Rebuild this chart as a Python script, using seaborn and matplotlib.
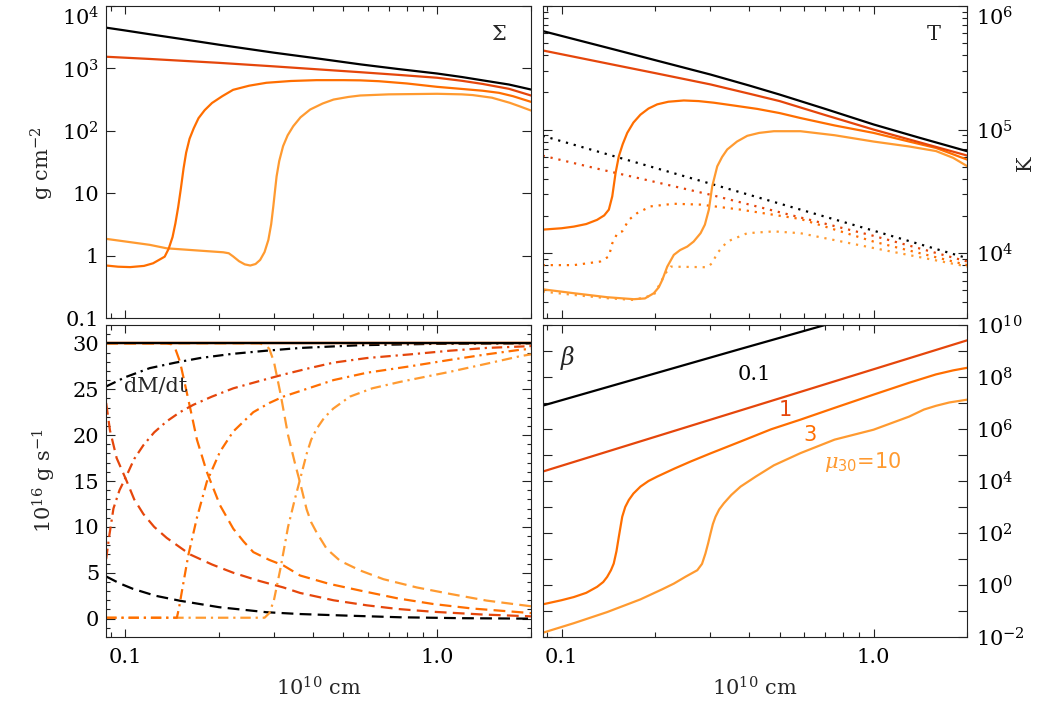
import matplotlib
matplotlib.use('Agg')
import matplotlib.pyplot as plt
import seaborn as sns
from matplotlib.ticker import FixedLocator, FixedFormatter, NullFormatter

# ---- colours for the four dipole moments (mu30 = 0.1, 1, 3, 10)
c01, c1, c3, c10 = 'black', '#e5460b', '#ff6e00', '#ff9a30'

# ---- surface density Sigma (g cm^-2)
sig_r_mu01 = [0.087, 0.1, 0.12, 0.15, 0.2, 0.3, 0.4, 0.57, 0.75, 1.0, 1.2, 1.4, 1.7, 2.0]
sig_mu01 = [4500, 4060, 3530, 2990, 2400, 1790, 1480, 1160, 980, 830, 730, 645, 553, 460]
sig_r_mu1 = [0.087, 0.12, 0.2, 0.3, 0.4, 0.57, 0.75, 1.0, 1.2, 1.4, 1.7, 2.0]
sig_mu1 = [1540, 1420, 1230, 1080, 980, 870, 790, 710, 635, 565, 472, 369]
sig_r_mu3 = [0.087, 0.095, 0.1038, 0.115, 0.123, 0.134, 0.138, 0.142, 0.145, 0.148,
             0.151, 0.154, 0.157, 0.161, 0.166, 0.172, 0.18, 0.19, 0.205, 0.222,
             0.25, 0.284, 0.34, 0.411, 0.5, 0.567, 0.651, 0.8, 1.0, 1.2, 1.4,
             1.58, 1.75, 2.0]
sig_mu3 = [0.70, 0.67, 0.66, 0.69, 0.76, 0.97, 1.3, 2.0, 3.3, 6.0,
           12, 25, 45, 75, 110, 160, 215, 280, 360, 455,
           530, 590, 630, 650, 650, 645, 625, 575, 508, 470, 440,
           407, 360, 292]
sig_r_mu10 = [0.087, 0.1, 0.12, 0.136, 0.17, 0.2065, 0.215, 0.222, 0.232, 0.242,
              0.252, 0.262, 0.271, 0.280, 0.288, 0.294, 0.2987, 0.303, 0.306, 0.312,
              0.321, 0.332, 0.346, 0.365, 0.392, 0.43, 0.466, 0.52, 0.567, 0.7,
              1.0, 1.2, 1.3, 1.5, 1.71, 1.85, 2.0]
sig_mu10 = [1.87, 1.7, 1.5, 1.32, 1.22, 1.14, 1.10, 0.98, 0.82, 0.73,
            0.70, 0.74, 0.86, 1.15, 1.8, 3.2, 6.2, 12, 18.7, 33,
            57, 85, 119, 165, 220, 275, 318, 350, 369, 385,
            393, 385, 375, 340, 282, 245, 212]

# ---- temperature T (K): solid = midplane, dotted = surface
T_r_mu01 = [0.087, 0.15, 0.2, 0.3, 0.4, 0.5, 0.7, 1.0, 1.4, 2.0]
T_mu01 = [6.27e5, 4.4e5, 3.64e5, 2.79e5, 2.27e5, 1.92e5, 1.47e5, 1.1e5, 8.6e4, 6.67e4]
T_r_mu1 = [0.087, 0.15, 0.2, 0.3, 0.4, 0.5, 0.7, 1.0, 1.4, 2.0]
T_mu1 = [4.37e5, 3.31e5, 2.86e5, 2.32e5, 1.95e5, 1.70e5, 1.31e5, 1.0e5, 7.9e4, 6.15e4]
T_r_mu3 = [0.087, 0.1, 0.1095, 0.12, 0.13, 0.137, 0.1418, 0.1454, 0.149, 0.1526,
           0.157, 0.1624, 0.17, 0.179, 0.19, 0.2026, 0.22, 0.2466, 0.275, 0.3076,
           0.36, 0.4238, 0.5, 0.583, 0.75, 1.0, 1.3, 1.585, 1.8, 2.0]
T_mu3 = [1.55e4, 1.59e4, 1.64e4, 1.72e4, 1.86e4, 2.02e4, 2.25e4, 2.88e4, 4.45e4, 6.07e4,
         7.6e4, 9.4e4, 1.14e5, 1.32e5, 1.48e5, 1.6e5, 1.68e5, 1.72e5, 1.70e5, 1.65e5,
         1.56e5, 1.47e5, 1.36e5, 1.24e5, 1.08e5, 9.4e4, 8.0e4, 7.1e4, 6.3e4, 5.7e4]
T_r_mu10 = [0.087, 0.1095, 0.14, 0.1705, 0.185, 0.1976, 0.205, 0.2103, 0.2182, 0.229,
            0.24, 0.2529, 0.265, 0.279, 0.288, 0.2966, 0.304, 0.3155, 0.327, 0.3396,
            0.365, 0.3937, 0.43, 0.479, 0.583, 0.75, 1.0, 1.3, 1.585, 1.8, 2.0]
T_mu10 = [5100, 4740, 4400, 4240, 4300, 4740, 5300, 6070, 7780, 9680,
          1.06e4, 1.13e4, 1.24e4, 1.45e4, 1.7e4, 2.25e4, 3.47e4, 5.04e4, 6.0e4, 6.9e4,
          8.0e4, 8.9e4, 9.4e4, 9.7e4, 9.7e4, 9.0e4, 8.0e4, 7.3e4, 6.7e4, 5.9e4, 5.04e4]

Ts_r_mu01 = [0.087, 0.3, 1.0, 2.0]
Ts_mu01 = [8.9e4, 3.65e4, 1.52e4, 9.1e3]
Ts_r_mu1 = [0.087, 0.13, 0.18, 0.3, 0.58, 1.0, 2.0]
Ts_mu1 = [6.15e4, 4.83e4, 4.0e4, 2.97e4, 1.95e4, 1.38e4, 8.55e3]
Ts_r_mu3 = [0.087, 0.1095, 0.133, 0.1418, 0.1454, 0.151, 0.1565, 0.1643, 0.1748,
            0.1929, 0.229, 0.279, 0.3747, 0.583, 1.0, 2.0]
Ts_mu3 = [8.0e3, 8.0e3, 8.55e3, 9.4e3, 1.2e4, 1.45e4, 1.5e4, 1.86e4, 2.11e4,
          2.39e4, 2.51e4, 2.47e4, 2.25e4, 1.89e4, 1.24e4, 8.0e3]
Ts_r_mu10 = [0.087, 0.1095, 0.140, 0.1705, 0.1976, 0.2155, 0.2236, 0.293, 0.304,
             0.3155, 0.3396, 0.3937, 0.479, 0.583, 1.0, 2.0]
Ts_mu10 = [4890, 4590, 4320, 4180, 4590, 6880, 7780, 7690, 8300,
           1.0e4, 1.24e4, 1.45e4, 1.5e4, 1.45e4, 1.1e4, 7780]

# ---- accretion rates (1e16 g/s): solid = total, dash-dot = disc, dashed = field lines
tot_r = [0.087, 2.0]
tot_mdot = [30.0, 30.0]

dd_r_mu01 = [0.087, 0.1, 0.12, 0.145, 0.174, 0.22, 0.284, 0.365, 0.567, 1.0, 2.0]
disk_mu01 = [25.3, 26.3, 27.3, 27.9, 28.4, 28.85, 29.2, 29.5, 29.8, 29.95, 30.0]
ds_r_mu01 = [0.087, 0.096, 0.106, 0.125, 0.15, 0.2, 0.284, 0.365, 0.514, 0.76, 1.2, 2.0]
mag_mu01 = [4.6, 3.85, 3.25, 2.5, 1.95, 1.25, 0.7, 0.5, 0.33, 0.15, 0.05, 0.0]

dd_r_mu1 = [0.087, 0.089, 0.0918, 0.096, 0.1012, 0.107, 0.1145, 0.124, 0.136, 0.15,
            0.1655, 0.19, 0.2223, 0.27, 0.3217, 0.39, 0.466, 0.596, 0.82, 1.1, 1.44, 2.0]
disk_mu1 = [6.5, 9.0, 12.0, 14.0, 15.6, 17.4, 18.9, 20.3, 21.5, 22.5,
            23.3, 24.2, 25.1, 25.9, 26.6, 27.3, 27.9, 28.4, 28.8, 29.2, 29.5, 29.7]
ds_r_mu1 = [0.087, 0.0895, 0.094, 0.1012, 0.107, 0.1145, 0.124, 0.136, 0.1615, 0.19,
            0.2223, 0.27, 0.3217, 0.364, 0.466, 0.596, 0.75, 0.97, 1.4, 2.0]
mag_mu1 = [23.5, 20.5, 17.5, 15.0, 13.0, 11.4, 10.0, 8.8, 7.0, 5.9,
           5.0, 4.1, 3.4, 2.8, 2.0, 1.45, 1.05, 0.75, 0.45, 0.25]

dd_r_mu3 = [0.087, 0.1466, 0.149, 0.152, 0.1595, 0.170, 0.1828, 0.2016, 0.2223, 0.2577,
            0.29, 0.3217, 0.364, 0.466, 0.596, 0.82, 1.1, 1.44, 1.845, 2.0]
disk_mu3 = [0.1, 0.1, 1.2, 2.9, 6.9, 11.0, 14.9, 18.2, 20.4, 22.5,
            23.5, 24.2, 24.8, 26.0, 26.8, 27.5, 28.2, 28.8, 29.3, 29.4]
ds_r_mu3 = [0.087, 0.136, 0.141, 0.1446, 0.150, 0.1576, 0.164, 0.170, 0.1828, 0.2016,
            0.2223, 0.24, 0.2577, 0.29, 0.3217, 0.364, 0.45, 0.567, 0.75, 0.97,
            1.3, 1.845, 2.0]
mag_mu3 = [30.0, 30.0, 29.9, 29.5, 28.0, 24.7, 22.0, 19.5, 16.0, 12.35,
           9.8, 8.4, 7.25, 6.4, 5.8, 4.7, 3.8, 3.06, 2.2, 1.6,
           1.1, 0.7, 0.6]

dd_r_mu10 = [0.087, 0.28, 0.29, 0.30, 0.315, 0.333, 0.350, 0.364, 0.3823, 0.395,
             0.4114, 0.435, 0.4652, 0.526, 0.62, 0.761, 1.1, 1.45, 1.845, 2.0]
disk_mu10 = [0.1, 0.1, 0.6, 2.0, 5.5, 10.0, 13.0, 15.2, 18.0, 19.5,
             20.7, 21.9, 22.9, 24.2, 25.1, 25.8, 26.9, 27.8, 28.6, 28.8]
ds_r_mu10 = [0.087, 0.27, 0.282, 0.29, 0.30, 0.315, 0.333, 0.350, 0.364, 0.382,
             0.395, 0.411, 0.443, 0.489, 0.567, 0.673, 0.861, 1.1, 1.44, 1.845, 2.0]
mag_mu10 = [30.0, 30.0, 29.8, 29.4, 28.0, 24.5, 20.0, 17.0, 14.8, 11.9,
            10.5, 9.4, 7.6, 6.3, 5.25, 4.3, 3.4, 2.7, 1.97, 1.5, 1.35]

# ---- plasma beta
b_r_mu01 = [0.087, 0.37, 0.75]
beta_mu01 = [7.9e6, 1.15e9, 1.27e10]
b_r_mu1 = [0.087, 0.52, 2.0]
beta_mu1 = [2.3e4, 1.75e7, 2.6e9]
b_r_mu3 = [0.087, 0.1, 0.1095, 0.12, 0.13, 0.136, 0.140, 0.144, 0.147, 0.150,
           0.1526, 0.1565, 0.16, 0.1643, 0.17, 0.179, 0.19, 0.2026, 0.23, 0.2591,
           0.3, 0.3747, 0.47, 0.583, 0.75, 1.0, 1.3, 1.585, 1.8, 2.0]
beta_mu3 = [0.18, 0.26, 0.344, 0.5, 0.85, 1.3, 2.04, 3.7, 6.7, 20,
            71, 422, 1000, 1860, 3300, 6080, 1.0e4, 1.48e4, 3.0e4, 5.6e4,
            1.15e5, 3.3e5, 9.8e5, 2.29e6, 6.5e6, 2.1e7, 6.0e7, 1.26e8, 1.8e8, 2.27e8]
b_r_mu10 = [0.087, 0.1095, 0.14, 0.179, 0.21, 0.229, 0.25, 0.2723, 0.282, 0.2892,
            0.295, 0.3003, 0.3055, 0.3115, 0.32, 0.3313, 0.35, 0.3747, 0.42, 0.479,
            0.583, 0.75, 1.0, 1.3, 1.45, 1.585, 1.75, 2.0]
beta_mu10 = [0.0145, 0.034, 0.0908, 0.28, 0.68, 1.13, 2.1, 3.7, 6.5, 16.3,
             40, 97, 220, 422, 800, 1390, 2900, 6080, 1.5e4, 4.0e4,
             1.18e5, 3.9e5, 9.4e5, 3.0e6, 5.6e6, 7.8e6, 1.05e7, 1.35e7]

sns.set_style('ticks')
plt.rcParams['font.family'] = ['DejaVu Serif']
plt.rcParams['mathtext.fontset'] = 'dejavuserif'
plt.rcParams['font.size'] = 15
plt.rcParams['lines.scale_dashes'] = False
plt.rcParams['axes.linewidth'] = 0.8

W, H = 1063, 709
fig = plt.figure(figsize=(W / 100, H / 100), dpi=100)


def box(x0, y0, x1, y1):
    return [x0 / W, 1 - y1 / H, (x1 - x0) / W, (y1 - y0) / H]


ax_s = fig.add_axes(box(106, 6, 531, 318.3))
ax_t = fig.add_axes(box(542.5, 6, 967.5, 318.3))
ax_m = fig.add_axes(box(106, 325, 531, 637))
ax_b = fig.add_axes(box(542.5, 325, 967.5, 637))

SOLID = '-'
DASH = (0, (8.5, 4.5))
DASHDOT = (0, (7.5, 3.5, 1.6, 3.5))
DOT = (0, (1.6, 4.2))
LW = 1.6


def line(ax, x, y, color, ls=SOLID):
    sns.lineplot(x=x, y=y, ax=ax, color=color, linestyle=ls, lw=LW,
                 estimator=None, sort=False)


# Sigma
for r, v, c in [(sig_r_mu10, sig_mu10, c10), (sig_r_mu3, sig_mu3, c3),
                (sig_r_mu1, sig_mu1, c1), (sig_r_mu01, sig_mu01, c01)]:
    line(ax_s, r, v, c)

# T
for r, v, c in [(Ts_r_mu10, Ts_mu10, c10), (Ts_r_mu3, Ts_mu3, c3),
                (Ts_r_mu1, Ts_mu1, c1), (Ts_r_mu01, Ts_mu01, c01)]:
    line(ax_t, r, v, c, DOT)
for r, v, c in [(T_r_mu10, T_mu10, c10), (T_r_mu3, T_mu3, c3),
                (T_r_mu1, T_mu1, c1), (T_r_mu01, T_mu01, c01)]:
    line(ax_t, r, v, c)

# accretion rates
for r, v, c in [(ds_r_mu10, mag_mu10, c10), (ds_r_mu3, mag_mu3, c3),
                (ds_r_mu1, mag_mu1, c1), (ds_r_mu01, mag_mu01, c01)]:
    line(ax_m, r, v, c, DASH)
for r, v, c in [(dd_r_mu10, disk_mu10, c10), (dd_r_mu3, disk_mu3, c3),
                (dd_r_mu1, disk_mu1, c1), (dd_r_mu01, disk_mu01, c01)]:
    line(ax_m, r, v, c, DASHDOT)
for c in [c10, c3, c1, c01]:
    line(ax_m, tot_r, tot_mdot, c)

# beta
for r, v, c in [(b_r_mu10, beta_mu10, c10), (b_r_mu3, beta_mu3, c3),
                (b_r_mu1, beta_mu1, c1), (b_r_mu01, beta_mu01, c01)]:
    line(ax_b, r, v, c)

minor_x = [0.09, 0.2, 0.3, 0.4, 0.5, 0.6, 0.7, 0.8, 0.9, 2.0]
for ax in (ax_s, ax_t, ax_m, ax_b):
    ax.set_xscale('log')
    ax.set_xlim(0.0869, 2.0)
    ax.xaxis.set_major_locator(FixedLocator([0.1, 1.0]))
    ax.xaxis.set_minor_locator(FixedLocator(minor_x))
    ax.xaxis.set_minor_formatter(NullFormatter())
    ax.tick_params(which='both', direction='in', top=True, right=True,
                   width=0.8, colors='#222222', labelcolor='black')
    ax.tick_params(axis='x', which='major', length=5.5)
    ax.tick_params(axis='x', which='minor', length=3.5)
    ax.set_xlabel('')
    ax.set_ylabel('')
    for s in ax.spines.values():
        s.set_color('#222222')

for ax in (ax_s, ax_t):
    ax.xaxis.set_major_formatter(NullFormatter())
for ax in (ax_m, ax_b):
    ax.xaxis.set_major_formatter(FixedFormatter(['0.1', '1.0']))
    ax.tick_params(axis='x', which='major', pad=8)

# Sigma axis
ax_s.set_yscale('log')
ax_s.set_ylim(0.1, 1e4)
ax_s.yaxis.set_major_locator(FixedLocator([0.1, 1, 10, 100, 1000, 10000]))
ax_s.yaxis.set_major_formatter(FixedFormatter(['0.1', '1', '10', '$10^{2}$', '$10^{3}$', '$10^{4}$']))
ax_s.yaxis.set_minor_locator(FixedLocator([]))
ax_s.tick_params(axis='y', which='major', length=6.5, pad=5)

# T axis
ax_t.set_yscale('log')
ax_t.set_ylim(2970, 1.0e6)
ax_t.yaxis.set_major_locator(FixedLocator([1e4, 1e5, 1e6]))
ax_t.yaxis.set_major_formatter(FixedFormatter(['$10^{4}$', '$10^{5}$', '$10^{6}$']))
ax_t.yaxis.set_minor_locator(FixedLocator([m * 10 ** e for e in (3, 4, 5) for m in range(2, 10)]))
ax_t.yaxis.set_minor_formatter(NullFormatter())
ax_t.tick_params(axis='y', which='major', length=6.5, labelleft=False, labelright=True, pad=6)
ax_t.tick_params(axis='y', which='minor', length=3.5)

# mdot axis
ax_m.set_ylim(-2, 32)
ax_m.yaxis.set_major_locator(FixedLocator([0, 5, 10, 15, 20, 25, 30]))
ax_m.yaxis.set_major_formatter(FixedFormatter(['0', '5', '10', '15', '20', '25', '30']))
ax_m.yaxis.set_minor_locator(FixedLocator(list(range(-2, 33))))
ax_m.tick_params(axis='y', which='major', length=6.5, pad=5)
ax_m.tick_params(axis='y', which='minor', length=3)

# beta axis
ax_b.set_yscale('log')
ax_b.set_ylim(1e-2, 1e10)
ax_b.yaxis.set_major_locator(FixedLocator([10.0 ** e for e in range(-2, 11, 2)]))
ax_b.yaxis.set_major_formatter(FixedFormatter(['$10^{%d}$' % e for e in range(-2, 11, 2)]))
ax_b.yaxis.set_minor_locator(FixedLocator([10.0 ** e for e in range(-1, 10, 2)]))
ax_b.yaxis.set_minor_formatter(NullFormatter())
ax_b.tick_params(axis='y', which='both', length=6.5, labelleft=False, labelright=True, pad=6)

fig.canvas.draw()
for ax in (ax_s, ax_t, ax_b):
    labs = ax.get_yticklabels()
    for lab in labs:
        lab.set_va('center_baseline')
    if ax is not ax_b:
        labs[-1].set_va('top')


def ftext(x, y, s, **kw):
    fig.text(x / W, 1 - y / H, s, ha=kw.pop('ha', 'center'), va=kw.pop('va', 'center'), **kw)


ftext(42, 163, 'g cm$^{-2}$', rotation=90)
ftext(44, 481, '10$^{16}$ g s$^{-1}$', rotation=90)
ftext(1025, 163, 'K', rotation=90)
ftext(318.5, 688, '10$^{10}$ cm')
ftext(755, 688, '10$^{10}$ cm')

ftext(499, 34, r'$\Sigma$')
ftext(934, 34, 'T')
ftext(124, 387, 'dM/dt', ha='left')
ftext(568, 358, r'$\beta$', fontsize=17)
ftext(754, 375, '0.1', color=c01)
ftext(785, 410, '1', color=c1, family='DejaVu Sans')
ftext(810, 435, '3', color=c3, family='DejaVu Sans')
ftext(863, 462, r'$\mu_{\mathsf{30}}$=10', color=c10, family='DejaVu Sans')

fig.savefig('out.png', dpi=100)
